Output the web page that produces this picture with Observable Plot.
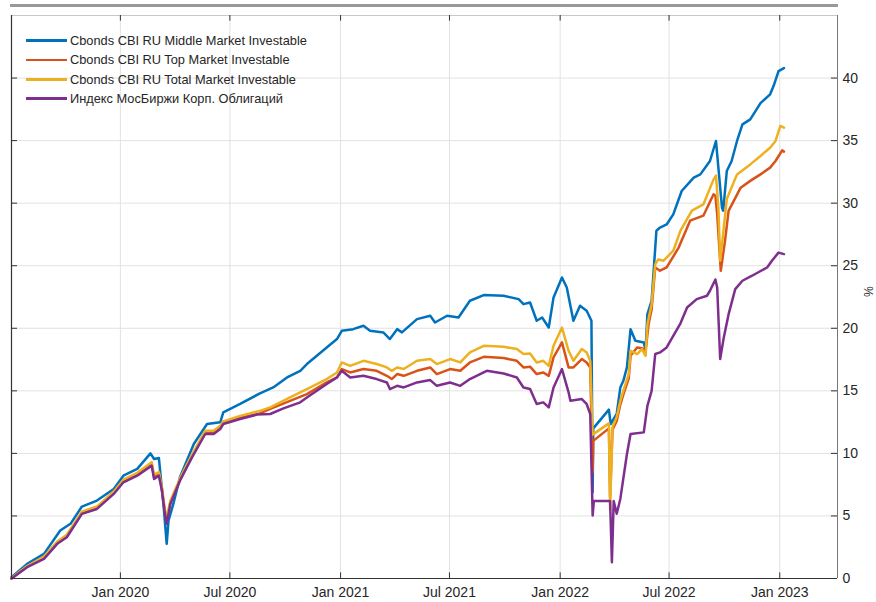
<!DOCTYPE html>
<html><head><meta charset="utf-8">
<script src="https://cdn.jsdelivr.net/npm/d3@7"></script>
<script src="https://cdn.jsdelivr.net/npm/@observablehq/plot@0.6"></script>
<style>
body{margin:0;background:#fff;font-family:"Liberation Sans",Arial,sans-serif;}
#wrap{position:relative;width:876px;height:602px;}
#bar{position:absolute;left:10px;top:4px;width:828px;height:3px;background:#999;}
#legend{position:absolute;left:26px;top:31px;font-size:12.8px;color:#262626;}
.row{display:flex;align-items:center;height:19.3px;white-space:nowrap;}
.sw{width:41px;height:2.6px;margin-right:3px;}
#wrap svg{position:absolute;left:0;top:0;}
</style></head><body><div id="wrap"></div>
<script>
const seriesNames = ["Cbonds CBI RU Middle Market Investable","Cbonds CBI RU Top Market Investable","Cbonds CBI RU Total Market Investable","Индекс МосБиржи Корп. Облигаций"];
const seriesColors = ["#0072BD","#D95319","#EDB120","#7E2F8E"];
const xTickDates = ["2020-01-01","2020-07-01","2021-01-01","2021-07-01","2022-01-01","2022-07-01","2023-01-01"];
const yTickValues = [0,5,10,15,20,25,30,35,40];
const xDomain = ["2019-07-04","2023-04-07"];
const yDomain = [0,45];

const cbiMiddle = [
["2019-07-04",0.1],["2019-07-30",1.17],["2019-08-27",1.97],["2019-09-23",3.83],["2019-10-10",4.37],["2019-10-29",5.75],["2019-11-23",6.23],["2019-12-21",7.16],["2020-01-06",8.22],["2020-01-29",8.76],["2020-02-20",10.0],["2020-02-26",9.55],["2020-03-05",9.63],["2020-03-13",5.7],["2020-03-18",2.77],["2020-03-21",4.63],["2020-03-29",5.96],["2020-04-09",8.09],["2020-05-02",10.75],["2020-05-24",12.35],["2020-06-15",12.48],["2020-06-20",13.28],["2020-07-18",13.95],["2020-08-20",14.8],["2020-09-11",15.27],["2020-10-04",16.07],["2020-10-26",16.6],["2020-11-06",17.14],["2020-12-09",18.47],["2020-12-26",19.14],["2021-01-03",19.8],["2021-01-22",19.93],["2021-02-08",20.2],["2021-02-19",19.8],["2021-03-13",19.67],["2021-03-24",19.14],["2021-04-05",19.93],["2021-04-13",19.67],["2021-05-08",20.73],["2021-05-30",21.0],["2021-06-07",20.46],["2021-06-27",21.0],["2021-07-16",20.86],["2021-08-04",22.2],["2021-08-27",22.65],["2021-09-29",22.6],["2021-10-24",22.33],["2021-11-01",21.93],["2021-11-12",22.06],["2021-11-23",20.6],["2021-12-02",20.86],["2021-12-13",20.06],["2021-12-21",22.46],["2022-01-04",24.06],["2022-01-12",23.26],["2022-01-23",20.6],["2022-02-03",21.8],["2022-02-14",21.4],["2022-02-22",20.6],["2022-02-24",6.9],["2022-02-25",12.0],["2022-03-23",13.5],["2022-03-26",12.35],["2022-04-05",13.15],["2022-04-11",15.27],["2022-04-16",15.8],["2022-04-22",16.87],["2022-04-28",19.93],["2022-05-06",19.0],["2022-05-20",18.87],["2022-05-23",18.2],["2022-05-26",21.13],["2022-06-02",22.2],["2022-06-10",27.8],["2022-06-16",28.05],["2022-06-27",28.3],["2022-07-08",29.1],["2022-07-22",30.97],["2022-08-11",32.04],["2022-08-22",32.3],["2022-09-07",33.37],["2022-09-17",34.97],["2022-09-21",32.84],["2022-09-27",29.64],["2022-09-29",29.4],["2022-10-05",32.57],["2022-10-13",33.37],["2022-10-22",34.97],["2022-10-31",36.3],["2022-11-13",36.7],["2022-11-30",38.0],["2022-12-16",38.7],["2022-12-22",39.4],["2022-12-30",40.56],["2023-01-08",40.8]
];

const cbiTop = [
["2019-07-04",0.0],["2019-07-30",0.95],["2019-08-27",1.65],["2019-09-18",2.85],["2019-10-04",3.4],["2019-10-29",5.25],["2019-11-23",5.65],["2019-12-21",6.85],["2020-01-06",7.8],["2020-01-29",8.33],["2020-02-22",9.15],["2020-02-26",8.1],["2020-03-05",8.4],["2020-03-10",7.15],["2020-03-15",5.3],["2020-03-18",4.6],["2020-03-24",6.05],["2020-04-09",7.9],["2020-04-29",9.78],["2020-05-21",11.65],["2020-06-04",11.65],["2020-06-15",12.05],["2020-06-20",12.45],["2020-07-18",12.85],["2020-08-20",13.2],["2020-09-06",13.55],["2020-10-09",14.2],["2020-11-06",14.74],["2020-12-09",15.67],["2020-12-26",16.07],["2021-01-03",16.74],["2021-01-17",16.47],["2021-02-08",16.74],["2021-03-02",16.6],["2021-03-19",16.2],["2021-03-27",15.94],["2021-04-05",16.34],["2021-04-16",16.2],["2021-05-08",16.6],["2021-05-30",16.87],["2021-06-10",16.34],["2021-07-02",16.74],["2021-07-19",16.6],["2021-08-04",17.27],["2021-08-27",17.72],["2021-09-29",17.62],["2021-10-21",17.4],["2021-11-01",16.87],["2021-11-12",16.93],["2021-11-23",16.34],["2021-12-04",16.47],["2021-12-13",16.2],["2021-12-21",17.67],["2022-01-04",18.87],["2022-01-15",16.87],["2022-01-23",16.87],["2022-02-06",17.54],["2022-02-14",17.27],["2022-02-20",16.87],["2022-02-24",8.5],["2022-02-25",11.0],["2022-03-23",12.0],["2022-03-25",6.5],["2022-03-29",11.9],["2022-04-05",12.6],["2022-04-11",13.9],["2022-04-16",14.7],["2022-04-25",16.0],["2022-04-28",17.8],["2022-05-09",18.47],["2022-05-17",18.4],["2022-05-23",18.2],["2022-05-28",20.33],["2022-06-02",21.5],["2022-06-08",24.86],["2022-06-16",24.6],["2022-06-27",24.86],["2022-07-17",26.45],["2022-08-05",28.6],["2022-08-27",29.0],["2022-09-13",30.71],["2022-09-16",30.6],["2022-09-19",29.1],["2022-09-25",24.6],["2022-10-02",26.98],["2022-10-08",29.38],["2022-10-28",31.24],["2022-11-13",31.78],["2022-11-30",32.3],["2022-12-16",32.84],["2022-12-25",33.37],["2023-01-05",34.22],["2023-01-08",34.12]
];

const cbiTotal = [
["2019-07-04",0.05],["2019-07-30",1.0],["2019-08-27",1.75],["2019-09-18",2.95],["2019-10-04",3.5],["2019-10-29",5.35],["2019-11-23",5.75],["2019-12-21",6.95],["2020-01-06",7.9],["2020-01-29",8.45],["2020-02-22",9.3],["2020-02-26",8.3],["2020-03-05",8.5],["2020-03-10",7.3],["2020-03-15",5.5],["2020-03-18",4.9],["2020-03-24",6.2],["2020-04-09",8.0],["2020-04-29",9.9],["2020-05-21",11.8],["2020-06-04",11.8],["2020-06-15",12.2],["2020-06-20",12.55],["2020-07-18",13.0],["2020-08-20",13.4],["2020-09-06",13.68],["2020-10-09",14.47],["2020-11-06",15.14],["2020-12-09",15.94],["2020-12-26",16.47],["2021-01-03",17.27],["2021-01-17",17.0],["2021-02-08",17.4],["2021-03-02",17.14],["2021-03-19",16.87],["2021-03-27",16.6],["2021-04-05",16.87],["2021-04-16",16.74],["2021-05-08",17.4],["2021-05-30",17.54],["2021-06-10",17.14],["2021-07-02",17.54],["2021-07-19",17.27],["2021-08-04",18.07],["2021-08-27",18.6],["2021-09-29",18.52],["2021-10-21",18.34],["2021-11-01",17.94],["2021-11-12",17.99],["2021-11-23",17.27],["2021-12-04",17.4],["2021-12-13",17.0],["2021-12-21",18.6],["2022-01-04",20.06],["2022-01-15",18.2],["2022-01-23",17.4],["2022-02-06",18.34],["2022-02-14",18.07],["2022-02-20",17.4],["2022-02-24",11.5],["2022-03-23",12.4],["2022-03-25",5.5],["2022-03-29",12.1],["2022-04-05",12.9],["2022-04-11",14.2],["2022-04-16",15.0],["2022-04-25",16.34],["2022-04-28",18.2],["2022-05-09",17.94],["2022-05-17",18.34],["2022-05-23",17.8],["2022-05-26",20.3],["2022-06-02",21.93],["2022-06-08",25.1],["2022-06-13",25.5],["2022-06-22",25.4],["2022-07-08",26.2],["2022-07-20",27.8],["2022-08-08",29.4],["2022-08-27",29.9],["2022-09-13",31.9],["2022-09-17",32.2],["2022-09-21",29.64],["2022-09-24",25.4],["2022-09-30",28.05],["2022-10-05",30.34],["2022-10-22",32.3],["2022-11-13",33.1],["2022-11-30",33.77],["2022-12-16",34.43],["2022-12-25",34.97],["2023-01-02",36.17],["2023-01-08",36.03]
];

const moexCorp = [
["2019-07-04",0.0],["2019-07-30",0.9],["2019-08-27",1.57],["2019-09-18",2.77],["2019-10-04",3.3],["2019-10-29",5.17],["2019-11-23",5.56],["2019-12-21",6.76],["2020-01-06",7.69],["2020-01-29",8.22],["2020-02-22",9.02],["2020-02-26",7.96],["2020-03-05",8.22],["2020-03-10",7.03],["2020-03-15",5.17],["2020-03-18",4.37],["2020-03-24",5.96],["2020-04-09",7.82],["2020-04-29",9.68],["2020-05-21",11.55],["2020-06-04",11.55],["2020-06-15",11.95],["2020-06-20",12.35],["2020-07-18",12.75],["2020-08-15",13.1],["2020-09-06",13.15],["2020-09-28",13.6],["2020-10-26",14.08],["2020-11-06",14.47],["2020-12-09",15.54],["2020-12-26",16.07],["2021-01-03",16.6],["2021-01-17",16.07],["2021-02-08",16.2],["2021-03-02",15.94],["2021-03-19",15.67],["2021-03-24",15.14],["2021-04-05",15.4],["2021-04-16",15.27],["2021-05-08",15.67],["2021-05-30",15.86],["2021-06-10",15.4],["2021-07-02",15.67],["2021-07-19",15.4],["2021-08-04",15.94],["2021-09-01",16.6],["2021-09-29",16.39],["2021-10-21",16.07],["2021-11-01",15.27],["2021-11-12",15.14],["2021-11-23",13.95],["2021-12-04",14.08],["2021-12-13",13.68],["2021-12-21",15.27],["2022-01-04",16.74],["2022-01-15",14.88],["2022-01-18",14.2],["2022-02-06",14.34],["2022-02-14",13.95],["2022-02-20",13.15],["2022-02-24",5.03],["2022-02-26",6.2],["2022-03-25",6.2],["2022-03-28",1.3],["2022-03-31",6.2],["2022-04-05",5.17],["2022-04-11",6.36],["2022-04-22",9.95],["2022-04-28",11.55],["2022-05-20",11.68],["2022-05-26",13.8],["2022-06-02",15.0],["2022-06-08",17.94],["2022-06-16",18.07],["2022-06-27",18.47],["2022-07-20",20.4],["2022-07-31",21.66],["2022-08-16",22.33],["2022-09-02",22.6],["2022-09-07",23.0],["2022-09-16",23.9],["2022-09-19",23.26],["2022-09-24",17.54],["2022-09-30",19.27],["2022-10-08",21.13],["2022-10-19",23.13],["2022-10-31",23.8],["2022-11-16",24.2],["2022-12-11",24.86],["2022-12-19",25.4],["2022-12-30",26.05],["2023-01-08",25.93]
];

const parse = d3.utcParse("%Y-%m-%d");
const seriesData = [cbiMiddle, cbiTop, cbiTotal, moexCorp];
const rows = seriesData.flatMap((s, i) => s.map(([d, v]) => ({date: parse(d), value: v, series: seriesNames[i]})));
const xTicks = xTickDates.map(parse);
const xd = xDomain.map(parse);
const ruleColor = "#333";

const plot = Plot.plot({
  width: 876, height: 602,
  marginLeft: 11, marginRight: 39, marginTop: 15, marginBottom: 24,
  style: {fontFamily: '"Liberation Sans", Arial, sans-serif', fontSize: "14px", color: "#262626", background: "transparent"},
  x: {type: "utc", domain: xd},
  y: {domain: yDomain},
  color: {domain: seriesNames, range: seriesColors},
  marks: [
    Plot.gridX(xTicks, {stroke: "#e2e2e2", strokeOpacity: 1}),
    Plot.gridY(yTickValues.slice(1), {stroke: "#e2e2e2", strokeOpacity: 1}),
    ...seriesNames.map((name, i) => Plot.line(rows.filter(r => r.series === name), {x: "date", y: "value", stroke: seriesColors[i], strokeWidth: 2.5, strokeLinejoin: "round"})),
    Plot.ruleY([yDomain[1]], {stroke: "#c8c8c8"}),
    Plot.ruleY([yDomain[0]], {stroke: ruleColor, strokeWidth: 1.2}),
    Plot.ruleX([xd[0]], {stroke: ruleColor, strokeWidth: 1.2}),
    Plot.ruleX([xd[1]], {stroke: "#777"}),
    Plot.ruleX(xTicks, {x: d => d, y1: yDomain[0], y2: 0.45, stroke: ruleColor}),
    Plot.ruleX(xTicks, {x: d => d, y1: yDomain[1], y2: yDomain[1] - 0.45, stroke: ruleColor}),
    Plot.ruleY(yTickValues.slice(1), {y: d => d, x1: xd[1], x2: d3.utcDay.offset(xd[1], -10), stroke: ruleColor}),
    Plot.ruleY(yTickValues.slice(1), {y: d => d, x1: xd[0], x2: d3.utcDay.offset(xd[0], 10), stroke: ruleColor}),
    Plot.axisX(xTicks, {tickSize: 0, tickPadding: 9, tickFormat: d3.utcFormat("%b %Y"), fill: "#262626", label: null}),
    Plot.axisY(yTickValues, {anchor: "right", tickSize: 0, tickPadding: 5, fill: "#262626", label: null}),
    Plot.text(["%"], {frameAnchor: "right", dx: 30, rotate: 90, fontSize: 12, fill: "#262626"})
  ]
});

const wrap = document.getElementById("wrap");
wrap.appendChild(plot);
const bar = document.createElement("div"); bar.id = "bar"; wrap.appendChild(bar);
const legend = document.createElement("div"); legend.id = "legend";
seriesNames.forEach((n, i) => {
  const r = document.createElement("div"); r.className = "row";
  const s = document.createElement("span"); s.className = "sw"; s.style.background = seriesColors[i];
  const t = document.createElement("span"); t.textContent = n;
  r.appendChild(s); r.appendChild(t); legend.appendChild(r);
});
wrap.appendChild(legend);
</script></body></html>
